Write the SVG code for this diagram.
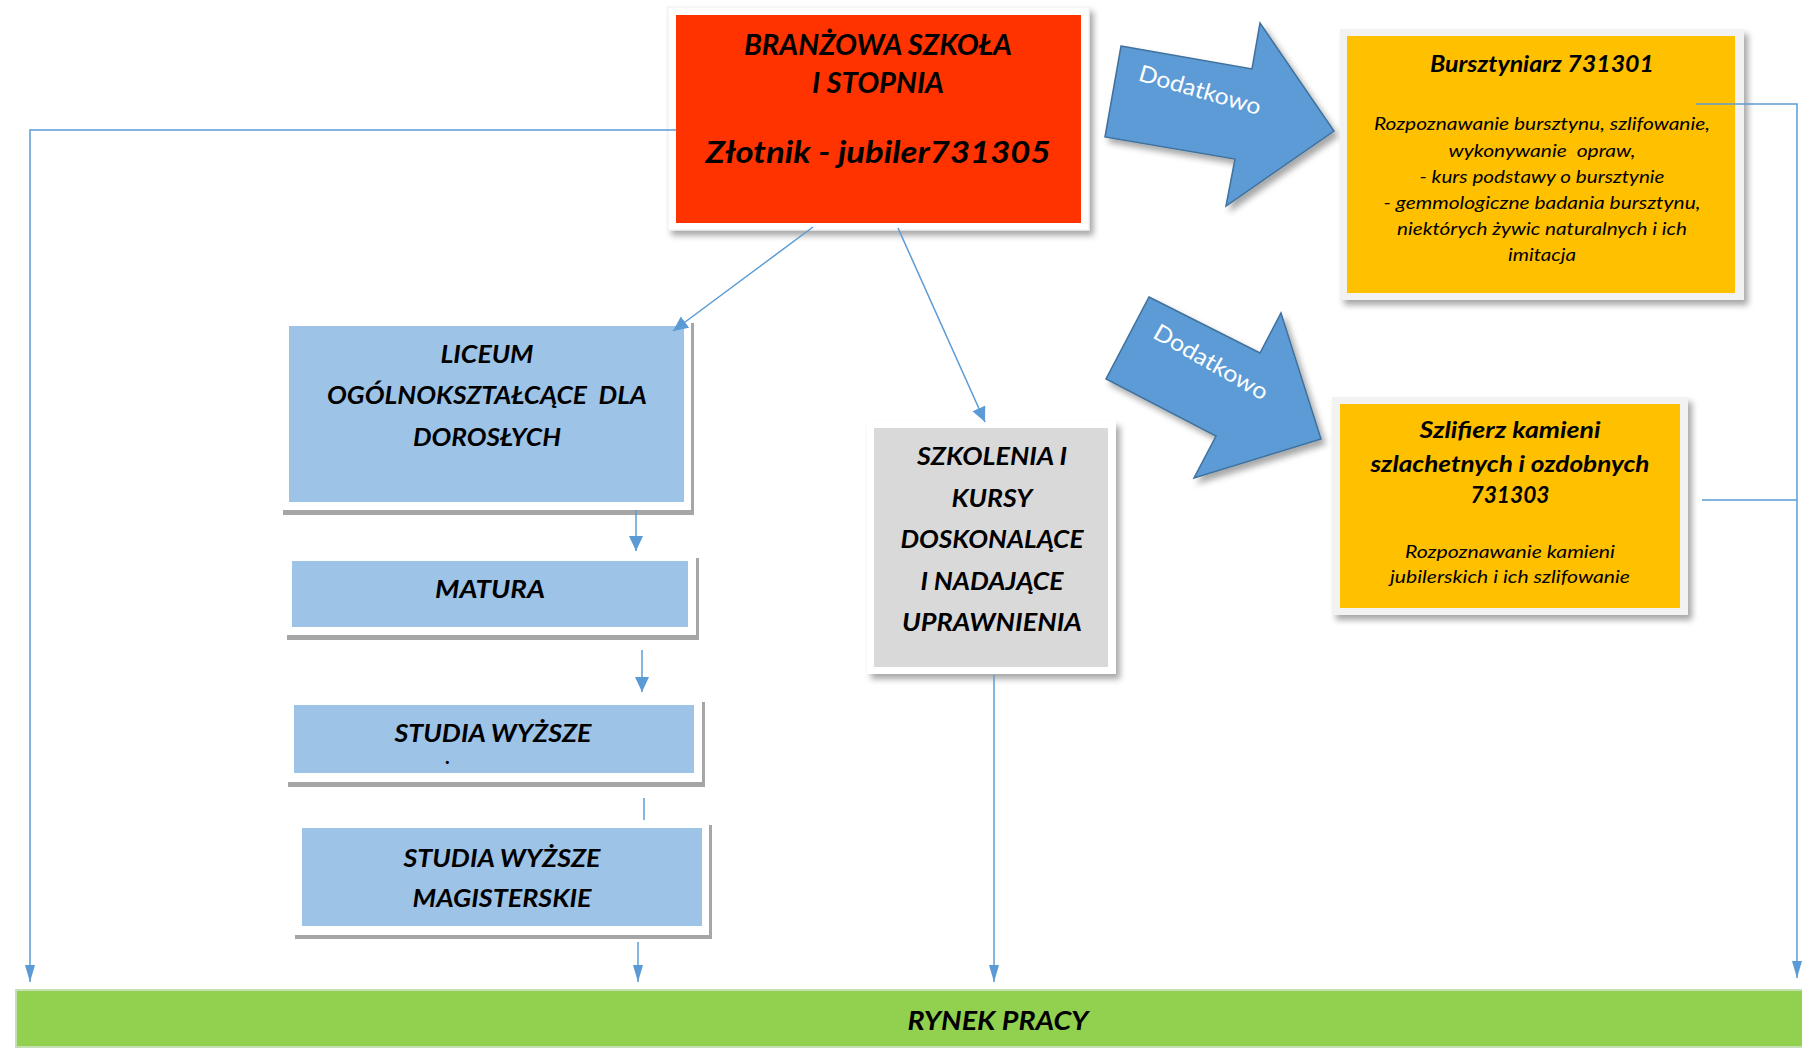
<svg xmlns="http://www.w3.org/2000/svg" width="1802" height="1053" viewBox="0 0 1802 1053">
<defs>
<filter id="sh" x="-10%" y="-10%" width="125%" height="125%">
<feDropShadow dx="4" dy="5" stdDeviation="3" flood-color="#000" flood-opacity="0.35"/>
</filter>
<marker id="ah" markerUnits="userSpaceOnUse" markerWidth="15" markerHeight="15" viewBox="0 0 15 15" refX="15" refY="7.5" orient="auto">
<path d="M0,0.5 L15,7.5 L0,14.5 z" fill="#5B9BD5"/>
</marker>
<marker id="ab" markerUnits="userSpaceOnUse" markerWidth="17" markerHeight="11" viewBox="0 0 17 11" refX="17" refY="5.5" orient="auto">
<path d="M0,0.5 L17,5.5 L0,10.5 z" fill="#5B9BD5"/>
</marker>
</defs>
<style>
.t{font-family:Lato,"Open Sans","Liberation Sans",sans-serif;font-weight:bold;font-style:italic;fill:#000;text-anchor:middle}
.i{font-family:Lato,"Open Sans","Liberation Sans",sans-serif;font-style:italic;fill:#000;text-anchor:middle}
.d{font-family:Lato,"Open Sans","Liberation Sans",sans-serif;fill:#fff;text-anchor:middle;font-size:23px}
.ln{fill:none;stroke:#5B9BD5;stroke-width:1.5}
.blue{fill:#9DC3E6}
.hs{fill:#A6A6A6}
.fr{fill:#fff}
.arr{fill:#5B9BD5;stroke:#41719C;stroke-width:1.5}
</style>
<rect width="1802" height="1053" fill="#fff"/>

<g id="red">
<rect x="668" y="7" width="421" height="223" fill="#fff" stroke="#EDEDED" filter="url(#sh)"/>
<rect x="676" y="15" width="405" height="208" fill="#FF3300"/>
<text class="t" x="878" y="55" font-size="28" textLength="268" lengthAdjust="spacingAndGlyphs">BRANŻOWA SZKOŁA</text>
<text class="t" x="878" y="93" font-size="28" textLength="132" lengthAdjust="spacingAndGlyphs">I STOPNIA</text>
<text class="t" x="878" y="163" font-size="31" textLength="345" lengthAdjust="spacingAndGlyphs">Złotnik - jubiler731305</text>
</g>

<g id="arrow1">
<path class="arr" d="M1121,46 L1252,69 L1260,23 L1334,131 L1226,206 L1235,159 L1105,137 Z" filter="url(#sh)"/>
<text class="d" transform="translate(1200,90) rotate(16)" dy="8" textLength="126" lengthAdjust="spacingAndGlyphs">Dodatkowo</text>
</g>

<g id="arrow2">
<path class="arr" d="M1149,297 L1260,353 L1281,313 L1321,439 L1194,478 L1216,436 L1106,379 Z" filter="url(#sh)"/>
<text class="d" transform="translate(1211,362) rotate(30)" dy="8" textLength="128" lengthAdjust="spacingAndGlyphs">Dodatkowo</text>
</g>

<g id="bursztyniarz">
<rect x="1340" y="29" width="404" height="271" fill="#F2F2F2" filter="url(#sh)"/>
<rect x="1347" y="36" width="388" height="257" fill="#FFC000"/>
<text class="t" x="1542" y="72" font-size="23" textLength="224" lengthAdjust="spacingAndGlyphs">Bursztyniarz 731301</text>
<text class="i" x="1542" y="130" font-size="17" textLength="336" lengthAdjust="spacingAndGlyphs">Rozpoznawanie bursztynu, szlifowanie,</text>
<text class="i" x="1542" y="157" font-size="17" textLength="187" lengthAdjust="spacingAndGlyphs" xml:space="preserve">wykonywanie  opraw,</text>
<text class="i" x="1542" y="183" font-size="17" textLength="245" lengthAdjust="spacingAndGlyphs">- kurs podstawy o bursztynie</text>
<text class="i" x="1542" y="209" font-size="17" textLength="317" lengthAdjust="spacingAndGlyphs">- gemmologiczne badania bursztynu,</text>
<text class="i" x="1542" y="235" font-size="17" textLength="290" lengthAdjust="spacingAndGlyphs">niektórych żywic naturalnych i ich</text>
<text class="i" x="1542" y="261" font-size="17" textLength="68" lengthAdjust="spacingAndGlyphs">imitacja</text>
</g>

<g id="szlifierz">
<rect x="1332" y="397" width="356" height="218" fill="#F2F2F2" filter="url(#sh)"/>
<rect x="1340" y="404" width="340" height="204" fill="#FFC000"/>
<text class="t" x="1510" y="438" font-size="22" textLength="181" lengthAdjust="spacingAndGlyphs">Szlifierz kamieni</text>
<text class="t" x="1510" y="472" font-size="22" textLength="279" lengthAdjust="spacingAndGlyphs">szlachetnych i ozdobnych</text>
<text class="t" x="1510" y="503" font-size="22" textLength="79" lengthAdjust="spacingAndGlyphs">731303</text>
<text class="i" x="1510" y="558" font-size="18" textLength="210" lengthAdjust="spacingAndGlyphs">Rozpoznawanie kamieni</text>
<text class="i" x="1510" y="583" font-size="18" textLength="240" lengthAdjust="spacingAndGlyphs">jubilerskich i ich szlifowanie</text>
</g>

<g id="liceum">
<rect class="hs" x="283" y="323" width="411" height="192"/>
<rect class="fr" x="280" y="318" width="411" height="192"/>
<rect class="blue" x="289" y="326" width="395" height="176"/>
<text class="t" x="487" y="363" font-size="25" textLength="93" lengthAdjust="spacingAndGlyphs">LICEUM</text>
<text class="t" x="487" y="404" font-size="25" textLength="320" lengthAdjust="spacingAndGlyphs" xml:space="preserve">OGÓLNOKSZTAŁCĄCE  DLA</text>
<text class="t" x="487" y="446" font-size="25" textLength="148" lengthAdjust="spacingAndGlyphs">DOROSŁYCH</text>
</g>

<g id="matura">
<rect class="hs" x="287" y="558" width="412" height="82"/>
<rect class="fr" x="284" y="553" width="412" height="82"/>
<rect class="blue" x="292" y="561" width="396" height="66"/>
<text class="t" x="490" y="598" font-size="25" textLength="110" lengthAdjust="spacingAndGlyphs">MATURA</text>
</g>

<g id="studia">
<rect class="hs" x="288" y="702" width="417" height="85"/>
<rect class="fr" x="285" y="697" width="417" height="85"/>
<rect class="blue" x="294" y="705" width="400" height="68"/>
<text class="t" x="493" y="742" font-size="25" textLength="197" lengthAdjust="spacingAndGlyphs">STUDIA WYŻSZE</text>
<text class="t" x="448" y="764" font-size="20">.</text>
</g>

<g id="magisterskie">
<rect class="hs" x="295" y="825" width="417" height="114"/>
<rect class="fr" x="292" y="820" width="417" height="115"/>
<rect class="blue" x="302" y="828" width="400" height="98"/>
<text class="t" x="502" y="867" font-size="25" textLength="197" lengthAdjust="spacingAndGlyphs">STUDIA WYŻSZE</text>
<text class="t" x="502" y="907" font-size="25" textLength="179" lengthAdjust="spacingAndGlyphs">MAGISTERSKIE</text>
</g>

<g id="szkolenia">
<rect x="867" y="421" width="249" height="253" fill="#fff" filter="url(#sh)"/>
<rect x="874" y="428" width="234" height="239" fill="#D9D9D9"/>
<text class="t" x="992" y="465" font-size="24" textLength="150" lengthAdjust="spacingAndGlyphs">SZKOLENIA I</text>
<text class="t" x="992" y="507" font-size="24" textLength="81" lengthAdjust="spacingAndGlyphs">KURSY</text>
<text class="t" x="992" y="548" font-size="24" textLength="183" lengthAdjust="spacingAndGlyphs">DOSKONALĄCE</text>
<text class="t" x="992" y="590" font-size="24" textLength="143" lengthAdjust="spacingAndGlyphs">I NADAJĄCE</text>
<text class="t" x="992" y="631" font-size="24" textLength="180" lengthAdjust="spacingAndGlyphs">UPRAWNIENIA</text>
</g>

<g id="rynek">
<rect x="16" y="990" width="1790" height="57" fill="#92D050" stroke="#C5E0B4" stroke-width="2"/>
<text class="t" x="998" y="1030" font-size="26" textLength="181" lengthAdjust="spacingAndGlyphs">RYNEK PRACY</text>
</g>

<g id="connectors">
<polyline class="ln" points="676,130 30,130 30,982" marker-end="url(#ab)"/>
<line class="ln" x1="813" y1="227" x2="673" y2="331" marker-end="url(#ah)"/>
<line class="ln" x1="898" y1="228" x2="985" y2="422" marker-end="url(#ah)"/>
<line class="ln" x1="636" y1="510" x2="636" y2="551" marker-end="url(#ah)"/>
<line class="ln" x1="642" y1="650" x2="642" y2="692" marker-end="url(#ah)"/>
<line class="ln" x1="644" y1="798" x2="644" y2="820"/>
<line class="ln" x1="638" y1="942" x2="638" y2="982" marker-end="url(#ab)"/>
<line class="ln" x1="994" y1="675" x2="994" y2="982" marker-end="url(#ab)"/>
<polyline class="ln" points="1696,104 1797,104 1797,978" marker-end="url(#ab)"/>
<line class="ln" x1="1702" y1="500" x2="1797" y2="500"/>
</g>
</svg>
